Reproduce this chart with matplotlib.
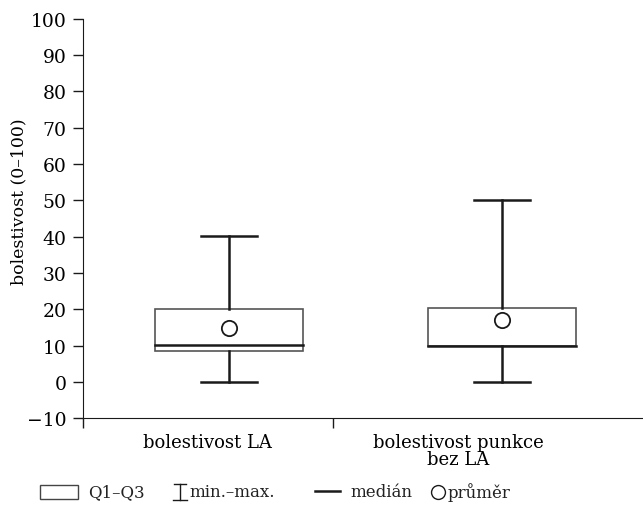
import matplotlib.pyplot as plt
from matplotlib.lines import Line2D
from matplotlib.patches import Rectangle

plt.rcParams['font.family'] = ['DejaVu Serif']
plt.rcParams['text.color'] = '#222222'

categories = ['bolestivost LA', 'bolestivost punkce\nbez LA']
q1 = [8.5, 10.0]
q3 = [20.0, 20.3]
median = [10.2, 10.0]
mean = [14.8, 17.0]
vmin = [0, 0]
vmax = [40.2, 50.0]
yticks = list(range(-10, 101, 10))

fig = plt.figure(figsize=(6.43, 5.10), dpi=100)
ax = fig.add_axes([0.129, 0.178, 0.871, 0.783])

pos = [1, 2]
bw = 0.54
cw = 0.205
ink = '#1a1a1a'
for i, p in enumerate(pos):
    ax.add_patch(Rectangle((p - bw / 2, q1[i]), bw, q3[i] - q1[i],
                           fill=False, edgecolor='#555555', lw=1.2, zorder=2))
    ax.plot([p, p], [q3[i], vmax[i]], color=ink, lw=1.8, zorder=3)
    ax.plot([p, p], [vmin[i], q1[i]], color=ink, lw=1.8, zorder=3)
    ax.plot([p - cw / 2, p + cw / 2], [vmax[i], vmax[i]], color=ink, lw=1.8)
    ax.plot([p - cw / 2, p + cw / 2], [vmin[i], vmin[i]], color=ink, lw=1.8)
    ax.plot([p - bw / 2, p + bw / 2], [median[i], median[i]], color=ink, lw=1.8, zorder=3)
    ax.plot(p, mean[i], 'o', ms=11, mfc='white', mec=ink, mew=1.3, zorder=4)

ax.set_xlim(0.465, 2.516)
ax.set_ylim(-10, 100)
ax.set_yticks(yticks)
ax.set_yticklabels(['\u2212' + str(-t) if t < 0 else str(t) for t in yticks], fontsize=13.5)
ax.set_xticks([0.465, 1.381])
ax.set_xticklabels(['', ''])
ax.set_xticks([0.92, 1.84], minor=True)
ax.set_xticklabels(categories, minor=True, fontsize=13, linespacing=0.9)
ax.tick_params(axis='x', which='minor', length=0, pad=11)
ax.tick_params(axis='both', which='major', length=7, width=1, color=ink)
ax.tick_params(axis='y', pad=5)
ax.spines['top'].set_visible(False)
ax.spines['right'].set_visible(False)
for s in ['left', 'bottom']:
    ax.spines[s].set_color(ink)
ax.set_ylabel('bolestivost (0–100)', fontsize=12.5)
ax.yaxis.set_label_coords(-0.1, 0.545)

# legend drawn by hand along the bottom
W, H = 643, 510
fy = 1 - 493 / H
fs = 12
fig.add_artist(Rectangle((40 / W, 1 - 500 / H), 38 / W, 14 / H, fill=False,
                         edgecolor='#444444', lw=1, transform=fig.transFigure))
fig.text(88 / W, fy, 'Q1–Q3', fontsize=fs, va='center')
fig.add_artist(Line2D([174 / W, 186 / W], [1 - 485 / H] * 2, color=ink, lw=1, transform=fig.transFigure))
fig.add_artist(Line2D([180 / W] * 2, [1 - 485 / H, 1 - 501 / H], color=ink, lw=1, transform=fig.transFigure))
fig.add_artist(Line2D([173 / W, 187 / W], [1 - 501 / H] * 2, color=ink, lw=1, transform=fig.transFigure))
fig.text(189 / W, fy, 'min.–max.', fontsize=fs, va='center')
fig.add_artist(Line2D([315 / W, 340 / W], [1 - 492 / H] * 2, color=ink, lw=1.8, transform=fig.transFigure))
fig.text(350 / W, fy, 'medián', fontsize=fs, va='center')
fig.add_artist(Line2D([438 / W], [1 - 493 / H], marker='o', ms=10, mfc='white', mec=ink,
                      mew=1, transform=fig.transFigure))
fig.text(448 / W, fy, 'průměr', fontsize=fs, va='center')

fig.savefig('out.png', dpi=100)
